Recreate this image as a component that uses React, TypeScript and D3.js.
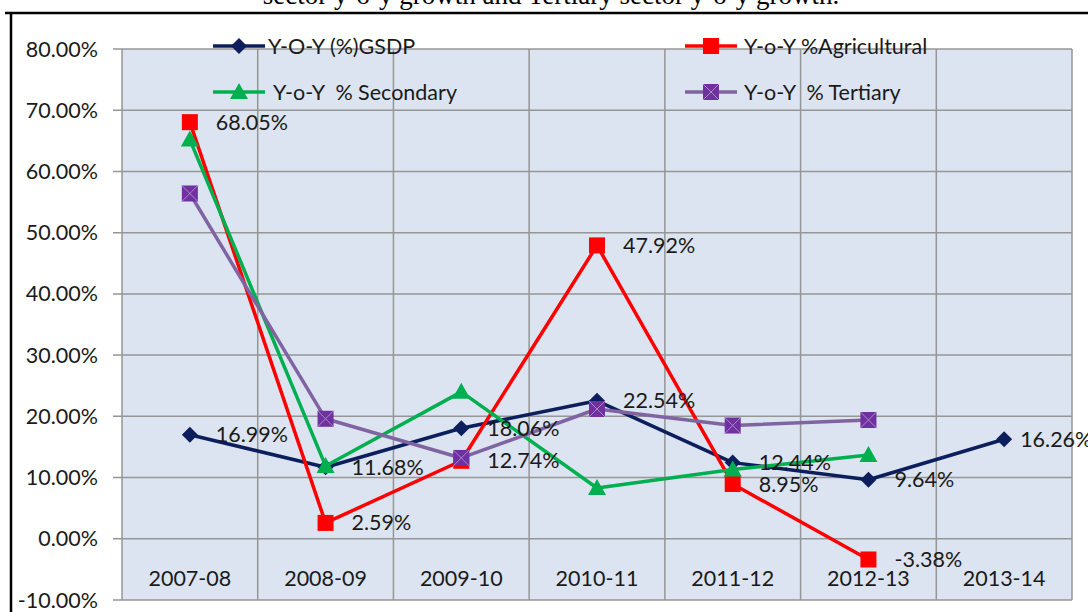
import React from 'react';
import * as d3 from 'd3';

const categories = ['2007-08', '2008-09', '2009-10', '2010-11', '2011-12', '2012-13', '2013-14'];
const gsdp = [16.99, 11.68, 18.06, 22.54, 12.44, 9.64, 16.26];
const agricultural = [68.05, 2.59, 12.74, 47.92, 8.95, -3.38, null];
const secondary = [65.2, 11.9, 24.0, 8.3, 11.3, 13.7, null];
const tertiary = [56.4, 19.6, 13.2, 21.2, 18.5, 19.4, null];
const yTicks = [-10, 0, 10, 20, 30, 40, 50, 60, 70, 80];

const W = 1088;
const H = 612;
const plot = { left: 122, right: 1072, top: 49, bottom: 600 };
const font = 'Lato, "Open Sans", sans-serif';
const fs = 21.5;

type Val = number | null;

const x = d3.scaleBand<string>().domain(categories).range([plot.left, plot.right]);
const cx = (c: string) => (x(c) as number) + x.bandwidth() / 2;
const y = d3.scaleLinear().domain([-10, 80]).range([plot.bottom, plot.top]);

const line = d3
  .line<[string, Val]>()
  .defined((d) => d[1] !== null)
  .x((d) => cx(d[0]))
  .y((d) => y(d[1] as number));

const series = [
  { name: 'Y-O-Y (%)GSDP', values: gsdp, color: '#0c1f5c', marker: 'diamond', labels: true },
  { name: 'Y-o-Y %Agricultural', values: agricultural, color: '#ff0000', marker: 'square', labels: true },
  { name: 'Y-o-Y  % Secondary', values: secondary, color: '#00b050', marker: 'triangle', labels: false },
  { name: 'Y-o-Y  % Tertiary', values: tertiary, color: '#8064a2', marker: 'xsquare', labels: false },
];

const Marker = ({ kind, px, py, color }: { kind: string; px: number; py: number; color: string }) => {
  if (kind === 'diamond') {
    const r = 8;
    return <path d={`M${px},${py - r}L${px + r},${py}L${px},${py + r}L${px - r},${py}Z`} fill={color} />;
  }
  if (kind === 'square') {
    return <rect x={px - 8} y={py - 8} width={16} height={16} fill={color} />;
  }
  if (kind === 'triangle') {
    return <path d={`M${px},${py - 9}L${px + 9},${py + 7}L${px - 9},${py + 7}Z`} fill={color} />;
  }
  return (
    <g>
      <rect x={px - 8} y={py - 8} width={16} height={16} fill="#7030a0" />
      <path d={`M${px - 8},${py - 8}L${px + 8},${py + 8}M${px + 8},${py - 8}L${px - 8},${py + 8}`} stroke="#a58bc8" strokeWidth={1} />
    </g>
  );
};

const legendPos = [
  { lx: 213, ly: 46, tx: 268 },
  { lx: 685, ly: 46, tx: 744 },
  { lx: 213, ly: 92, tx: 273 },
  { lx: 685, ly: 92, tx: 744 },
];

export default function App() {
  return (
    <svg width={W} height={H} style={{ position: 'absolute', left: 0, top: 0, background: '#fff' }}>
      <text x={551} y={4} textAnchor="middle" fontFamily='"Liberation Serif", serif' fontSize={27}>
        sector y-o-y growth and Tertiary sector y-o-y growth.
      </text>
      <path d={`M5,13H${W}M11,13V${H}`} stroke="#000" strokeWidth={2.5} fill="none" />

      <rect x={plot.left} y={plot.top} width={plot.right - plot.left} height={plot.bottom - plot.top} fill="#dbe4f0" />
      {yTicks.map((t) => (
        <g key={t}>
          <line x1={113} x2={plot.right} y1={y(t)} y2={y(t)} stroke="#969696" strokeWidth={1.5} />
          <text x={98} y={y(t)} dy="0.35em" textAnchor="end" fontFamily={font} fontSize={fs} fill="#1a1a1a">
            {t.toFixed(2) + '%'}
          </text>
        </g>
      ))}
      {categories.map((c) => (
        <line key={c} x1={x(c)} x2={x(c)} y1={plot.top} y2={plot.bottom} stroke="#969696" strokeWidth={1.5} />
      ))}
      <line x1={plot.right} x2={plot.right} y1={plot.top} y2={plot.bottom} stroke="#969696" strokeWidth={1.5} />
      {categories.map((c) => (
        <text key={c} x={cx(c)} y={578} dy="0.35em" textAnchor="middle" fontFamily={font} fontSize={fs} fill="#1a1a1a">
          {c}
        </text>
      ))}

      {series.map((s) => (
        <g key={s.name}>
          <path
            d={line(categories.map((c, i) => [c, s.values[i]] as [string, Val])) || ''}
            fill="none"
            stroke={s.color}
            strokeWidth={3.5}
            strokeLinejoin="round"
          />
          {categories.map((c, i) =>
            s.values[i] === null ? null : (
              <Marker key={c} kind={s.marker} px={cx(c)} py={y(s.values[i] as number)} color={s.color} />
            )
          )}
        </g>
      ))}

      {series
        .filter((s) => s.labels)
        .map((s) =>
          categories.map((c, i) =>
            s.values[i] === null ? null : (
              <text
                key={s.name + c}
                x={cx(c) + (i === categories.length - 1 ? 16 : 26)}
                y={y(s.values[i] as number)}
                dy="0.35em"
                fontFamily={font}
                fontSize={fs}
                fill="#1a1a1a"
              >
                {(s.values[i] as number).toFixed(2) + '%'}
              </text>
            )
          )
        )}

      {series.map((s, i) => {
        const p = legendPos[i];
        return (
          <g key={s.name}>
            <line x1={p.lx} x2={p.lx + 52} y1={p.ly} y2={p.ly} stroke={s.color} strokeWidth={3.5} />
            <Marker kind={s.marker} px={p.lx + 26} py={p.ly} color={s.color} />
            <text x={p.tx} y={p.ly} dy="0.35em" fontFamily={font} fontSize={fs} fill="#1a1a1a" style={{ whiteSpace: 'pre' }}>
              {s.name}
            </text>
          </g>
        );
      })}
    </svg>
  );
}
